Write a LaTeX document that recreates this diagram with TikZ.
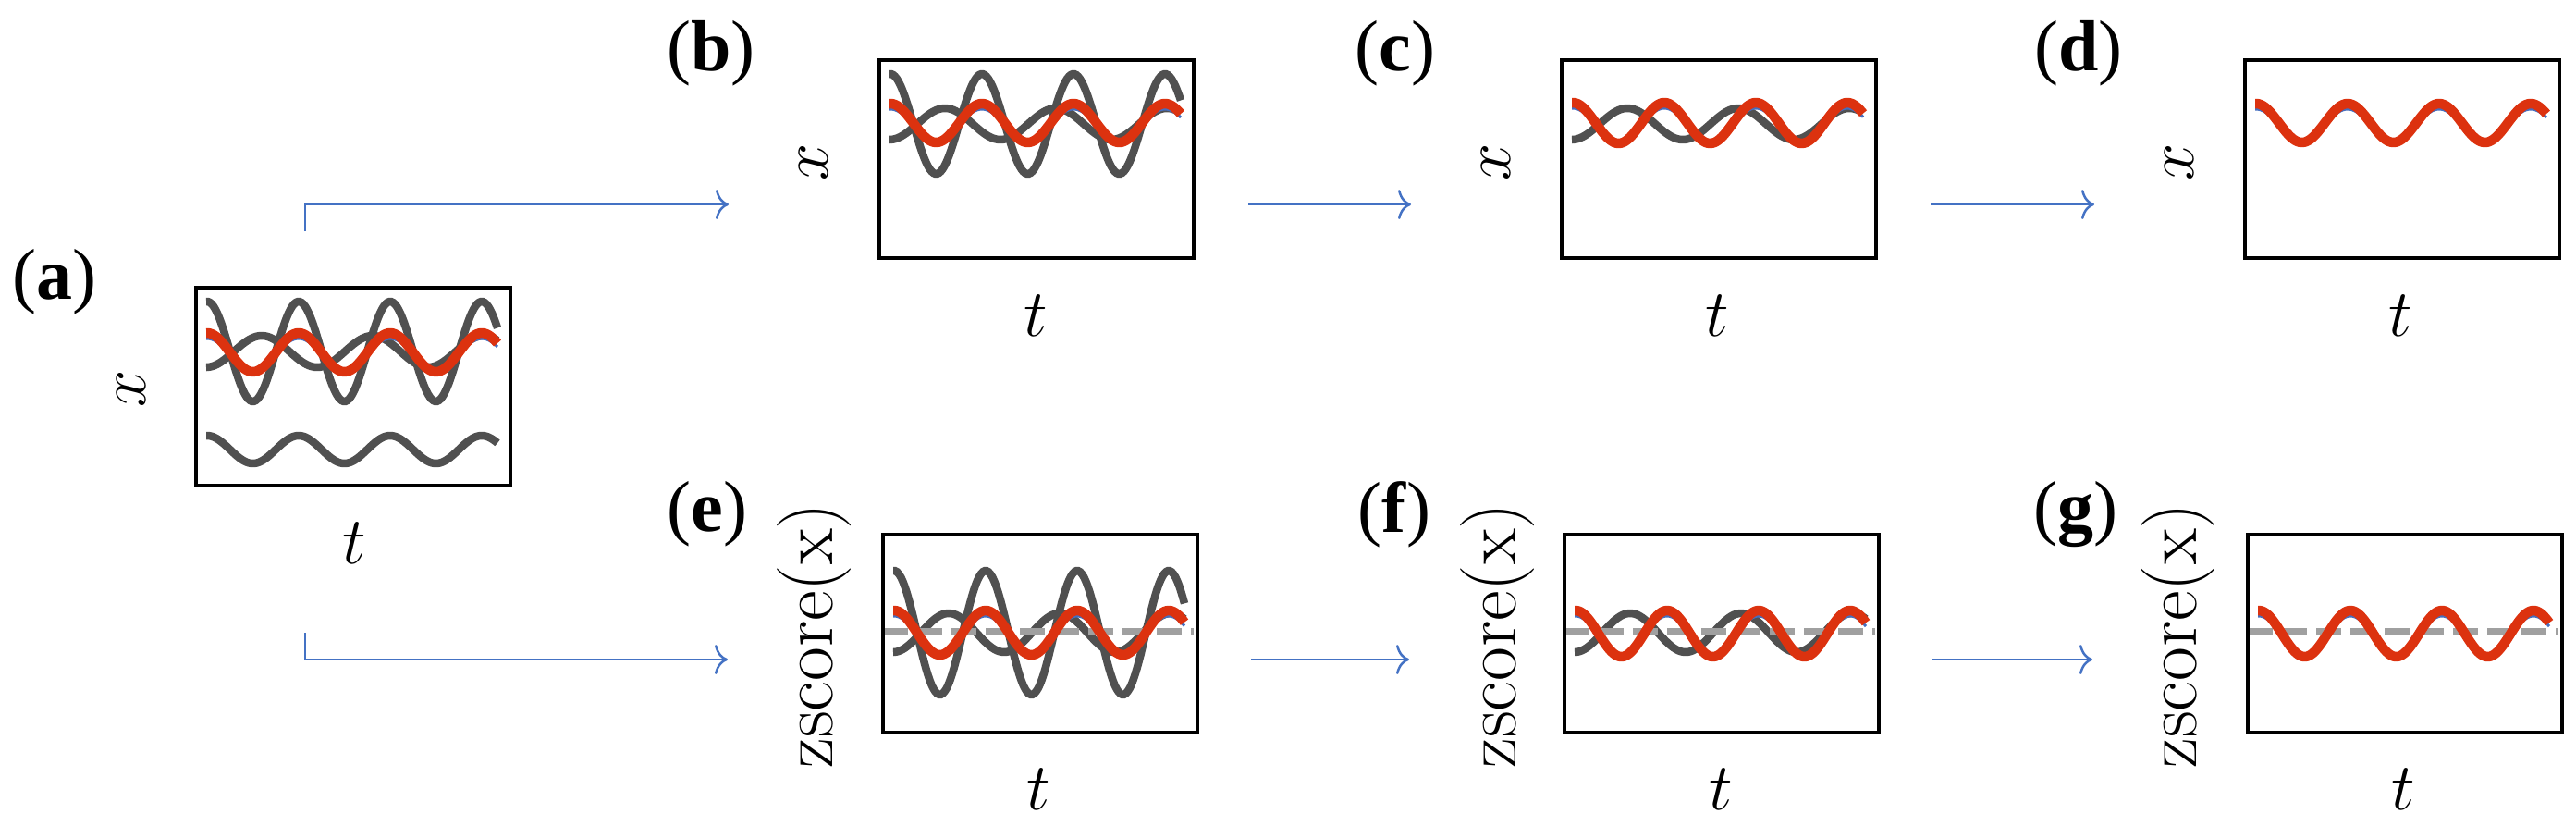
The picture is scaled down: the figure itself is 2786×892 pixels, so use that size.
\RequirePackage{fix-cm}
\documentclass[tikz,border=0pt]{standalone}
\usepackage{fontspec}
\newfontfamily\labfont{Liberation Serif}
\usetikzlibrary{arrows.meta}
\definecolor{sigGray}{RGB}{80,80,80}
\definecolor{sigRed}{RGB}{220,50,15}
\definecolor{sigBlue}{RGB}{70,110,190}
\definecolor{zeroGray}{RGB}{160,160,160}
\definecolor{flowBlue}{RGB}{68,114,196}
\tikzset{
  lab/.style={inner sep=0pt, font=\labfont\fontsize{78}{80}\selectfont},
  axlab/.style={inner sep=0pt, font=\fontsize{72}{74}\selectfont},
  zlab/.style={inner sep=0pt, rotate=90, font=\fontsize{80}{82}\selectfont},
  pbox/.style={draw=black, line width=3.5pt, inner sep=0pt, minimum width=340pt, minimum height=214pt, anchor=north west},
  sig/.style={line width=8.5pt, color=sigGray},
  redl/.style={line width=10.5pt, color=sigRed},
  blul/.style={line width=3pt, color=sigBlue},
  zeroline/.style={line width=8pt, color=zeroGray, dash pattern=on 27pt off 10pt},
  flow/.style={line width=2.5pt, color=flowBlue, -{Computer Modern Rightarrow[length=14pt,width=32pt]}}
}
\newcommand\fastgray[2]{\draw[sig] plot[domain=13:328,samples=160,smooth] (\x,{#1-#2*cos((\x-14)*3.63636)});}
\newcommand\slowgray[2]{\draw[sig] plot[domain=13:328,samples=160,smooth] (\x,{#1+#2*cos((\x-13)*3)});}
\newcommand\targetsig[2]{%
  \draw[blul] plot[domain=13:328,samples=160,smooth] (\x,{#1+2-(#2-4)*cos((\x-14)*3.63636)});
  \draw[redl] plot[domain=13:328,samples=160,smooth] (\x,{#1-#2*cos((\x-14)*3.63636)});}
\newcommand\zeroref[1]{\draw[zeroline] (2,#1) -- (338,#1);}
\begin{document}
\begin{tikzpicture}[x=1pt,y=-1pt]
\useasboundingbox (0,0) rectangle (2786,892);
% ---------- panel (a)
\node[lab] (la) at (59,305) {(\textbf{a})};
\node[axlab,rotate=90] (xa) at (142,420) {$x$};
\node[axlab] (ta) at (383,587) {$t$};
\begin{scope}[shift={(210,309)}]
  \fastgray{71}{54}
  \slowgray{71}{17}
  \fastgray{177}{15}
  \targetsig{72}{21}
\end{scope}
\node[pbox] (boxa) at (210,309) {};
% ---------- panel (b)
\node[lab] (lb) at (769,58) {(\textbf{b})};
\node[axlab,rotate=90] (xb) at (880,175) {$x$};
\node[axlab] (tb) at (1120,341) {$t$};
\begin{scope}[shift={(949,63)}]
  \fastgray{71}{54}
  \slowgray{71}{17}
  \targetsig{70}{21}
\end{scope}
\node[pbox] (boxb) at (949,63) {};
% ---------- panel (c)
\node[lab] (lc) at (1509,58) {(\textbf{c})};
\node[axlab,rotate=90] (xc) at (1618,175) {$x$};
\node[axlab] (tc) at (1857,341) {$t$};
\begin{scope}[shift={(1687,63)}]
  \slowgray{71}{17}
  \targetsig{70}{22}
\end{scope}
\node[pbox] (boxc) at (1687,63) {};
% ---------- panel (d)
\node[lab] (ld) at (2248,58) {(\textbf{d})};
\node[axlab,rotate=90] (xd) at (2357,175) {$x$};
\node[axlab] (td) at (2596,341) {$t$};
\begin{scope}[shift={(2426,63)}]
  \targetsig{70}{21}
\end{scope}
\node[pbox] (boxd) at (2426,63) {};
% ---------- panel (e)
\node[lab] (le) at (765,556) {(\textbf{e})};
\node[zlab] (ze) at (881,687) {zscore(x)};
\node[axlab] (te) at (1123,853) {$t$};
\begin{scope}[shift={(953,576)}]
  \fastgray{108}{67}
  \slowgray{108}{21}
  \zeroref{107}
  \targetsig{108}{24}
\end{scope}
\node[pbox] (boxe) at (953,576) {};
% ---------- panel (f)
\node[lab] (lf) at (1508,556) {(\textbf{f})};
\node[zlab] (zf) at (1620,687) {zscore(x)};
\node[axlab] (tf) at (1861,853) {$t$};
\begin{scope}[shift={(1690,576)}]
  \slowgray{108}{21}
  \zeroref{107}
  \targetsig{109}{25}
\end{scope}
\node[pbox] (boxf) at (1690,576) {};
% ---------- panel (g)
\node[lab] (lg) at (2245,556) {(\textbf{g})};
\node[zlab] (zg) at (2356,687) {zscore(x)};
\node[axlab] (tg) at (2599,853) {$t$};
\begin{scope}[shift={(2429,576)}]
  \zeroref{107}
  \targetsig{109}{25}
\end{scope}
\node[pbox] (boxg) at (2429,576) {};
% ---------- connectors
\coordinate (aup) at (330,250);
\coordinate (adn) at (330,684);
\coordinate (bin) at (788,221);
\coordinate (ein) at (787,713);
\coordinate (bout) at (1350,221);
\coordinate (cin) at (1526,221);
\coordinate (cout) at (2088,221);
\coordinate (din) at (2265,221);
\coordinate (eout) at (1353,713);
\coordinate (fin) at (1524,713);
\coordinate (fout) at (2090,713);
\coordinate (gin) at (2263,713);
\draw[flow] (aup) |- (bin);
\draw[flow] (adn) |- (ein);
\draw[flow] (bout) -- (cin);
\draw[flow] (cout) -- (din);
\draw[flow] (eout) -- (fin);
\draw[flow] (fout) -- (gin);
\end{tikzpicture}
\end{document}
